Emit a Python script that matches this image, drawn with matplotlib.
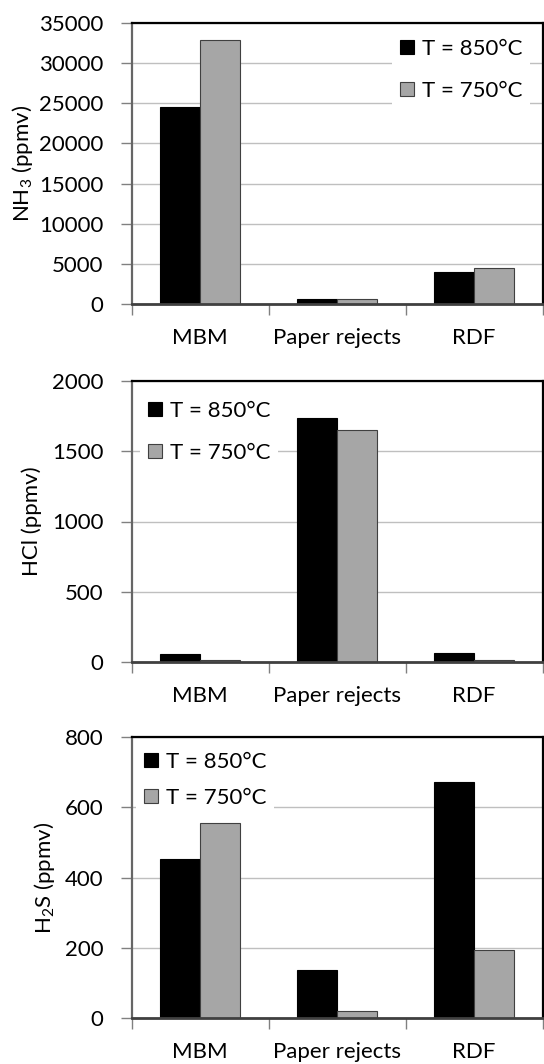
import matplotlib
matplotlib.use("Agg")
import matplotlib.pyplot as plt
import numpy as np
from matplotlib.patches import Patch

plt.rcParams['font.family'] = ['Lato', 'DejaVu Sans']
plt.rcParams['mathtext.default'] = 'regular'

categories = ["MBM", "Paper rejects", "RDF"]
series_labels = ["T = 850°C", "T = 750°C"]

nh3_850 = [24550, 580, 4030]
nh3_750 = [32870, 580, 4490]
hcl_850 = [57, 1735, 61]
hcl_750 = [17, 1650, 17]
h2s_850 = [453, 138, 672]
h2s_750 = [556, 19, 195]

ylabels = ["NH$_3$ (ppmv)", "HCl (ppmv)", "H$_2$S (ppmv)"]
ymaxes = [35000, 2000, 800]
ysteps = [5000, 500, 200]

black = "#000000"
gray = "#A6A6A6"
FS = 16

fig = plt.figure(figsize=(5.44, 10.64), dpi=100)
W, H = 544, 1064
panels = [(23, 304), (381, 662), (737, 1018)]
left_px, right_px = 131.5, 542.5
labelpads = [3, 7, 6]
# legend anchor: (square left x px, vertical mid y px, labelspacing)
leg_pos = [(400, 70, 1.0), (148, 432, 1.0), (144, 780, 0.72)]

data = [(nh3_850, nh3_750), (hcl_850, hcl_750), (h2s_850, h2s_750)]

for i, ((top, bot), (s1, s2)) in enumerate(zip(panels, data)):
    ax = fig.add_axes([left_px / W, 1 - bot / H, (right_px - left_px) / W, (bot - top) / H])
    x = np.arange(len(categories))
    bw = 0.29
    ax.bar(x - bw / 2, s1, bw, color=black, edgecolor=black, linewidth=0.8, zorder=3)
    ax.bar(x + bw / 2, s2, bw, color=gray, edgecolor="#404040", linewidth=0.8, zorder=3)
    ax.set_xlim(-0.5, 2.5)
    ax.set_ylim(0, ymaxes[i])
    ax.set_yticks(np.arange(0, ymaxes[i] + 1, ysteps[i]))
    ax.yaxis.grid(True, color="#BFBFBF", linewidth=1.0, zorder=0)
    ax.set_axisbelow(True)
    ax.set_xticks(x)
    ax.set_xticklabels(categories, fontsize=FS)
    ax.set_xticks([-0.5, 0.5, 1.5, 2.5], minor=True)
    ax.tick_params(axis='x', which='major', length=0, pad=17)
    ax.tick_params(axis='x', which='minor', length=8, color="#808080", width=1)
    ax.tick_params(axis='y', labelsize=FS, length=8, color="#808080", width=1, pad=12)
    for sp in ['top', 'right']:
        ax.spines[sp].set_color('black')
        ax.spines[sp].set_linewidth(1.6)
    ax.spines['left'].set_color('#666666')
    ax.spines['left'].set_linewidth(1.6)
    ax.spines['bottom'].set_color('#404040')
    ax.spines['bottom'].set_linewidth(2)
    for sp in ax.spines.values():
        sp.set_zorder(6)
    ax.set_ylabel(ylabels[i], fontsize=FS, labelpad=labelpads[i])
    handles = [Patch(facecolor=black, edgecolor=black, linewidth=0.8),
               Patch(facecolor=gray, edgecolor="#404040", linewidth=0.8)]
    lx, ly, ls = leg_pos[i]
    bp = 0.35
    bp_px = bp * FS * 100 / 72
    leg = ax.legend(handles, series_labels, loc='center left',
                    bbox_to_anchor=((lx - bp_px) / W, 1 - ly / H),
                    bbox_transform=fig.transFigure,
                    fontsize=FS, frameon=True,
                    fancybox=False, edgecolor='none', framealpha=1, handlelength=0.62,
                    handleheight=0.62, handletextpad=0.35, labelspacing=ls,
                    borderaxespad=0, borderpad=bp)
    leg.get_frame().set_linewidth(0)
    leg.set_zorder(2.8)

fig.savefig("out.png", dpi=100)
